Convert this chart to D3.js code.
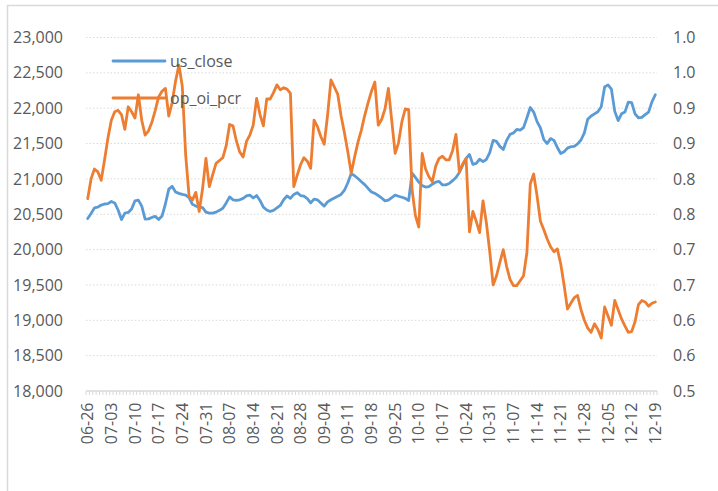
<!DOCTYPE html>
<html>
<head>
<meta charset="utf-8">
<script src="https://cdn.jsdelivr.net/npm/d3@7"></script>
<style>
  body { margin: 0; background: #fff; }
  text { font-family: "Open Sans", sans-serif; fill: #595959; }
  .grid line { stroke: #d9d9d9; stroke-width: 1; stroke-dasharray: 1.5,2; }
  .line { fill: none; stroke-width: 2.8; stroke-linejoin: round; stroke-linecap: round; }
</style>
</head>
<body>
<svg id="chart" width="718" height="491"></svg>
<script>
var dates = [
  "06-26","06-27","06-28","06-29","06-30",
  "07-01","07-02","07-03","07-04","07-05","07-06","07-07","07-08","07-09","07-10","07-11","07-12","07-13","07-14","07-15","07-16",
  "07-17","07-18","07-19","07-20","07-21","07-22","07-23","07-24","07-25","07-26","07-27","07-28","07-29","07-30","07-31",
  "08-01","08-02","08-03","08-04","08-05","08-06","08-07","08-08","08-09","08-10","08-11","08-12","08-13","08-14","08-15","08-16",
  "08-17","08-18","08-19","08-20","08-21","08-22","08-23","08-24","08-25","08-26","08-27","08-28","08-29","08-30","08-31",
  "09-01","09-02","09-03","09-04","09-05","09-06","09-07","09-08","09-09","09-10","09-11","09-12","09-13","09-14","09-15","09-16",
  "09-17","09-18","09-19","09-20","09-21","09-22","09-23","09-24","09-25","09-26","09-27","09-28","09-29","09-30",
  "10-09","10-10","10-11","10-12","10-13","10-14","10-15","10-16","10-17","10-18","10-19","10-20","10-21","10-22","10-23","10-24",
  "10-25","10-26","10-27","10-28","10-29","10-30","10-31",
  "11-01","11-02","11-03","11-04","11-05","11-06","11-07","11-08","11-09","11-10","11-11","11-12","11-13","11-14","11-15","11-16",
  "11-17","11-18","11-19","11-20","11-21","11-22","11-23","11-24","11-25","11-26","11-27","11-28","11-29","11-30",
  "12-01","12-02","12-03","12-04","12-05","12-06","12-07","12-08","12-09","12-10","12-11","12-12","12-13","12-14","12-15","12-16",
  "12-17","12-18","12-19"
];

var usClose = [
  20440,20510,20590,20600,20630,20645,20650,20680,20660,20560,20425,20515,20525,20575,20690,20700,
  20615,20430,20435,20455,20470,20425,20475,20645,20855,20895,20815,20795,20780,20770,20735,20640,
  20615,20605,20595,20530,20515,20515,20530,20555,20585,20660,20745,20705,20695,20705,20725,20760,
  20770,20730,20765,20695,20600,20560,20540,20555,20590,20625,20705,20760,20725,20780,20805,20765,
  20755,20720,20660,20715,20705,20660,20615,20675,20705,20730,20755,20780,20840,20945,21075,21045,
  21005,20960,20920,20865,20815,20795,20765,20730,20690,20700,20735,20770,20755,20740,20725,20695,
  21080,21020,20955,20905,20885,20890,20925,20955,20965,20915,20915,20935,20975,21020,21090,21195,
  21290,21345,21205,21220,21280,21245,21275,21370,21545,21530,21460,21415,21545,21630,21650,21700,
  21690,21725,21865,22010,21945,21810,21720,21555,21500,21570,21545,21445,21360,21385,21435,21455,
  21460,21495,21550,21650,21845,21890,21920,21950,22020,22300,22330,22270,21955,21825,21920,21945,
  22085,22080,21920,21865,21870,21910,21945,22090,22190
];

var opOiPcr = [
  0.772,0.800,0.814,0.810,0.798,0.827,0.858,0.883,0.895,0.897,0.891,0.870,0.902,0.895,0.886,0.919,
  0.883,0.862,0.868,0.880,0.897,0.916,0.924,0.928,0.889,0.908,0.938,0.961,0.931,0.834,0.776,0.770,
  0.781,0.754,0.786,0.829,0.789,0.806,0.822,0.826,0.830,0.847,0.877,0.875,0.854,0.838,0.831,0.853,
  0.862,0.876,0.914,0.891,0.875,0.913,0.913,0.922,0.933,0.926,0.929,0.927,0.921,0.789,0.805,0.820,
  0.830,0.825,0.815,0.883,0.874,0.860,0.849,0.890,0.940,0.930,0.920,0.889,0.865,0.838,0.808,0.831,
  0.852,0.869,0.890,0.908,0.924,0.937,0.876,0.884,0.899,0.928,0.882,0.836,0.851,0.881,0.899,0.898,
  0.785,0.748,0.732,0.836,0.814,0.803,0.796,0.818,0.829,0.832,0.827,0.827,0.840,0.863,0.810,0.821,
  0.829,0.725,0.754,0.740,0.724,0.769,0.738,0.697,0.650,0.663,0.682,0.700,0.676,0.658,0.649,0.649,
  0.656,0.663,0.696,0.793,0.807,0.776,0.740,0.728,0.715,0.704,0.697,0.701,0.680,0.650,0.616,0.624,
  0.632,0.635,0.615,0.600,0.589,0.583,0.595,0.587,0.575,0.619,0.606,0.593,0.628,0.615,0.602,0.592,
  0.583,0.584,0.598,0.622,0.628,0.626,0.620,0.624,0.626
];

var leftTicks = [18000,18500,19000,19500,20000,20500,21000,21500,22000,22500,23000];
var rightTicks = [0.5,0.55,0.6,0.65,0.7,0.75,0.8,0.85,0.9,0.95,1.0];
var rightTickLabels = ["0.5","0.6","0.6","0.7","0.7","0.8","0.8","0.9","0.9","1.0","1.0"];
var seriesNames = ["us_close","op_oi_pcr"];
var colors = ["#5b9bd5","#ed7d31"];

var svg = d3.select("#chart");
var plot = { left: 86, right: 657, top: 37.5, bottom: 391 };

// outer chart border
svg.append("rect")
   .attr("x", 7.5).attr("y", 5.5)
   .attr("width", 730).attr("height", 500)
   .attr("fill", "none")
   .attr("stroke", "#d9d9d9")
   .attr("stroke-width", 1.5);

var x = d3.scaleBand().domain(dates).range([plot.left, plot.right]).padding(0);
var yL = d3.scaleLinear().domain([18000, 23000]).range([plot.bottom, plot.top]);
var yR = d3.scaleLinear().domain([0.5, 1.0]).range([plot.bottom, plot.top]);
var cx = function(d) { return x(d) + x.bandwidth() / 2; };

// gridlines
svg.append("g")
   .attr("class", "grid")
   .selectAll("line")
   .data(leftTicks.slice(1))
   .join("line")
   .attr("x1", plot.left).attr("x2", plot.right)
   .attr("y1", function(d) { return yL(d); })
   .attr("y2", function(d) { return yL(d); });

// left axis
var gL = svg.append("g")
   .attr("transform", "translate(" + plot.left + ",0)")
   .call(d3.axisLeft(yL).tickValues(leftTicks).tickSize(0).tickPadding(23).tickFormat(d3.format(",")));
gL.select(".domain").remove();
gL.selectAll("text").style("font-size", "16px").attr("fill", "#595959");

// right axis
var gR = svg.append("g")
   .attr("transform", "translate(" + plot.right + ",0)")
   .call(d3.axisRight(yR).tickValues(rightTicks).tickSize(0).tickPadding(16)
     .tickFormat(function(d, i) { return rightTickLabels[i]; }));
gR.select(".domain").remove();
gR.selectAll("text").style("font-size", "16px").attr("fill", "#595959");

// bottom axis line and category tick marks
svg.append("line")
   .attr("x1", plot.left).attr("x2", plot.right)
   .attr("y1", plot.bottom).attr("y2", plot.bottom)
   .attr("stroke", "#d9d9d9").attr("stroke-width", 1.5);
svg.append("g")
   .selectAll("line")
   .data(dates.concat(["end"]))
   .join("line")
   .attr("x1", function(d, i) { return plot.left + i * x.step(); })
   .attr("x2", function(d, i) { return plot.left + i * x.step(); })
   .attr("y1", plot.bottom).attr("y2", plot.bottom + 4)
   .attr("stroke", "#d9d9d9").attr("stroke-width", 1);

// bottom labels every 7th category
var gX = svg.append("g")
   .attr("transform", "translate(0," + plot.bottom + ")")
   .call(d3.axisBottom(x).tickValues(dates.filter(function(d, i) { return i % 7 === 0; })).tickSize(0));
gX.select(".domain").remove();
gX.selectAll("text")
   .style("font-size", "16px")
   .attr("fill", "#595959")
   .attr("text-anchor", "end")
   .attr("transform", "rotate(-90)")
   .attr("x", -11.5)
   .attr("y", 0)
   .attr("dy", "0.35em");

// lines
var lineL = d3.line().x(function(d, i) { return cx(dates[i]); }).y(function(d) { return yL(d); });
var lineR = d3.line().x(function(d, i) { return cx(dates[i]); }).y(function(d) { return yR(d); });
svg.append("path").datum(usClose).attr("class", "line").attr("stroke", colors[0]).attr("d", lineL);
svg.append("path").datum(opOiPcr).attr("class", "line").attr("stroke", colors[1]).attr("d", lineR);

// legend
var legend = svg.append("g").attr("transform", "translate(113,61)");
seriesNames.forEach(function(name, i) {
  var g = legend.append("g").attr("transform", "translate(0," + (i * 37) + ")");
  g.append("line").attr("x1", 0).attr("x2", 52).attr("y1", 0).attr("y2", 0)
   .attr("stroke", colors[i]).attr("stroke-width", 2.8).attr("stroke-linecap", "round");
  g.append("text").attr("x", 57).attr("y", 0).attr("dy", "0.35em")
   .style("font-size", "16px").text(name);
});
</script>
</body>
</html>
